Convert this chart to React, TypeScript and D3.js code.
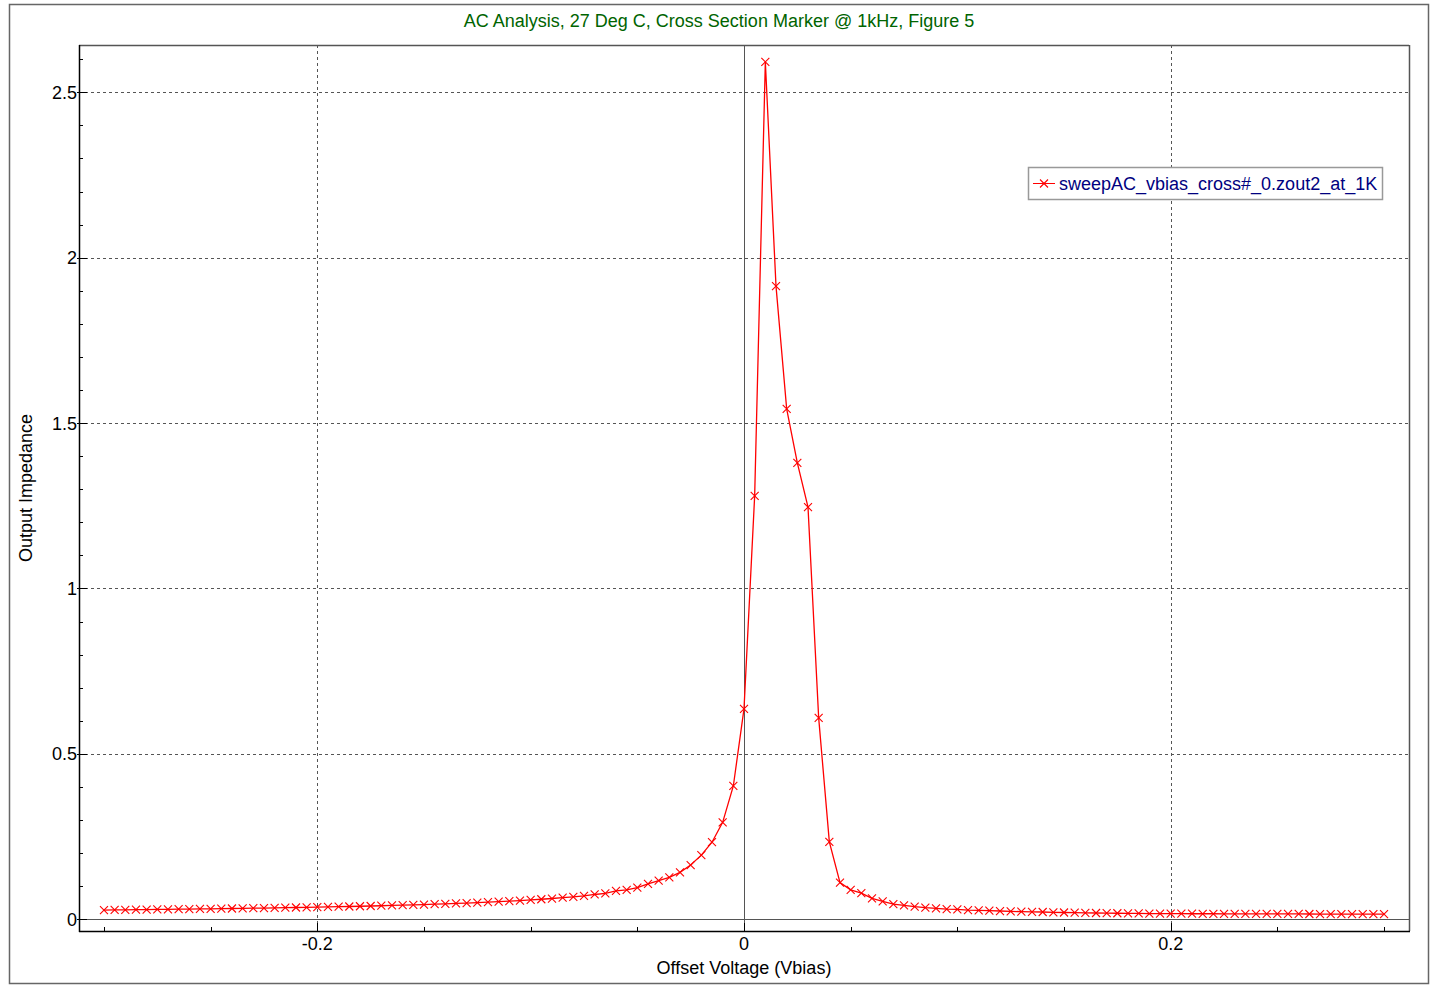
import React from "react";
import * as d3 from "d3";

const W = 1431;
const H = 990;

const xStart = -0.3;
const xStep = 0.005;
const zout: number[] = [
  0.028, 0.0283, 0.0287, 0.029, 0.0294, 0.0297, 0.0301, 0.0305, 0.0309, 0.0313,
  0.0317, 0.0321, 0.0326, 0.033, 0.0335, 0.034, 0.0345, 0.035, 0.0356, 0.0362,
  0.0368, 0.0374, 0.0381, 0.0387, 0.0394, 0.0402, 0.041, 0.0418, 0.0427, 0.0436,
  0.0446, 0.0456, 0.0467, 0.0479, 0.0491, 0.0504, 0.0518, 0.0533, 0.0549, 0.0567,
  0.0586, 0.0606, 0.0628, 0.0652, 0.0678, 0.0706, 0.075, 0.0786, 0.0856, 0.0886,
  0.0955, 0.107, 0.117, 0.127, 0.142, 0.164, 0.194, 0.233, 0.293, 0.403,
  0.636, 1.28, 2.592, 1.914, 1.543, 1.38, 1.246, 0.609, 0.234, 0.111,
  0.089, 0.079, 0.0635, 0.054, 0.046, 0.042, 0.038, 0.035, 0.033, 0.031,
  0.03, 0.028, 0.027, 0.026, 0.025, 0.024, 0.023, 0.0225, 0.022, 0.021,
  0.0205, 0.02, 0.0195, 0.019, 0.0186, 0.0183, 0.018, 0.0176, 0.0173, 0.0171,
  0.017, 0.0169, 0.0168, 0.0167, 0.0167, 0.0166, 0.0165, 0.0164, 0.0164, 0.0163,
  0.0162, 0.0161, 0.0161, 0.016, 0.0159, 0.0159, 0.0158, 0.0157, 0.0157, 0.0156,
  0.0155,
];
const points = zout.map((v, i) => ({ x: xStart + i * xStep, y: v }));

const xMajorTicks = [-0.2, 0, 0.2];
const xTickLabels = ["-0.2", "0", "0.2"];
const yMajorTicks = [0, 0.5, 1, 1.5, 2, 2.5];
const yTickLabels = ["0", "0.5", "1", "1.5", "2", "2.5"];

const title = "AC Analysis, 27 Deg C, Cross Section Marker @ 1kHz, Figure 5";
const xLabel = "Offset Voltage (Vbias)";
const yLabel = "Output Impedance";
const seriesName = "sweepAC_vbias_cross#_0.zout2_at_1K";

const L = 79, R = 1409, T = 45, B = 931;
const FONT = "'Liberation Sans', Arial, Helvetica, sans-serif";

export default function App() {
  const x = d3.scaleLinear().domain([-0.3117, 0.3117]).range([L, R]);
  const y = d3.scaleLinear().domain([-0.0354, 2.643]).range([B, T]);
  const line = d3
    .line<{ x: number; y: number }>()
    .x((d) => x(d.x))
    .y((d) => y(d.y));

  const xMinor = d3.range(-0.3, 0.3001, 0.05).filter(
    (t) => !xMajorTicks.some((m) => Math.abs(m - t) < 1e-9)
  );
  const yMinor = d3.range(0, 2.6501, 0.1).filter(
    (t) => !yMajorTicks.some((m) => Math.abs(m - t) < 1e-9)
  );

  const cross = (cx: number, cy: number, k: string | number) => (
    <path
      key={k}
      d={`M${cx - 4},${cy - 4}L${cx + 4},${cy + 4}M${cx - 4},${cy + 4}L${cx + 4},${cy - 4}`}
      stroke="#ff0000"
      strokeWidth={1.1}
      fill="none"
    />
  );

  return (
    <svg
      width={W}
      height={H}
      style={{ position: "absolute", left: 0, top: 0, background: "#fff" }}
      fontFamily={FONT}
    >
      <rect x={0} y={0} width={W} height={H} fill="#fff" />
      <rect x={9.5} y={4.5} width={1419} height={979} fill="none" stroke="#666" strokeWidth={1.5} />
      <text x={719} y={27} textAnchor="middle" fontSize={18} fill="#006400">
        {title}
      </text>

      {/* grid */}
      {xMajorTicks.filter((t) => t !== 0).map((t) => (
        <line key={"gx" + t} x1={Math.round(x(t)) + 0.5} x2={Math.round(x(t)) + 0.5} y1={T} y2={B}
          stroke="#555" strokeDasharray="3,3" strokeWidth={1} />
      ))}
      {yMajorTicks.filter((t) => t !== 0).map((t) => (
        <line key={"gy" + t} x1={L} x2={R} y1={Math.round(y(t)) + 0.5} y2={Math.round(y(t)) + 0.5}
          stroke="#555" strokeDasharray="3,3" strokeWidth={1} />
      ))}
      {/* zero lines */}
      <line x1={Math.round(x(0)) + 0.5} x2={Math.round(x(0)) + 0.5} y1={T} y2={B} stroke="#555" strokeWidth={1} />
      <line x1={L} x2={R} y1={Math.round(y(0)) + 0.5} y2={Math.round(y(0)) + 0.5} stroke="#555" strokeWidth={1} />

      {/* frame */}
      <line x1={L} x2={R} y1={T + 0.5} y2={T + 0.5} stroke="#555" strokeWidth={1.5} />
      <line x1={R + 0.5} x2={R + 0.5} y1={T} y2={B} stroke="#555" strokeWidth={1.5} />
      <line x1={L + 0.5} x2={L + 0.5} y1={T} y2={B + 1} stroke="#000" strokeWidth={1.5} />
      <line x1={L} x2={R + 1} y1={B + 0.5} y2={B + 0.5} stroke="#000" strokeWidth={1.5} />

      {/* x ticks */}
      {xMinor.map((t, i) => (
        <line key={"xm" + i} x1={Math.round(x(t)) + 0.5} x2={Math.round(x(t)) + 0.5} y1={B} y2={B - 4} stroke="#000" />
      ))}
      {xMajorTicks.map((t, i) => (
        <g key={"xM" + i}>
          <line x1={Math.round(x(t)) + 0.5} x2={Math.round(x(t)) + 0.5} y1={B} y2={B - 8} stroke="#000" />
          <text x={x(t)} y={950} textAnchor="middle" fontSize={18} fill="#000">
            {xTickLabels[i]}
          </text>
        </g>
      ))}
      {/* y ticks */}
      {yMinor.map((t, i) => (
        <line key={"ym" + i} x1={L} x2={L + 4} y1={Math.round(y(t)) + 0.5} y2={Math.round(y(t)) + 0.5} stroke="#000" />
      ))}
      {yMajorTicks.map((t, i) => (
        <g key={"yM" + i}>
          <line x1={L - 2} x2={L + 8} y1={Math.round(y(t)) + 0.5} y2={Math.round(y(t)) + 0.5} stroke="#000" />
          <text x={L - 2} y={y(t) + 6.5} textAnchor="end" fontSize={18} fill="#000">
            {yTickLabels[i]}
          </text>
        </g>
      ))}

      {/* axis labels */}
      <text x={744} y={974} textAnchor="middle" fontSize={18} fill="#000">
        {xLabel}
      </text>
      <text transform={`translate(32,488) rotate(-90)`} textAnchor="middle" fontSize={18} fill="#000">
        {yLabel}
      </text>

      {/* series */}
      <path d={line(points) || ""} fill="none" stroke="#ff0000" strokeWidth={1.3} />
      {points.map((p, i) => cross(x(p.x), y(p.y), i))}

      {/* legend */}
      <rect x={1028.5} y={167.5} width={354} height={32} fill="#fff" stroke="#999" strokeWidth={1.5} />
      <line x1={1033} x2={1055} y1={183.5} y2={183.5} stroke="#ff0000" strokeWidth={1} />
      {cross(1044, 183.5, "leg")}
      <text x={1059} y={190} fontSize={18} fill="#000080">
        {seriesName}
      </text>
    </svg>
  );
}
